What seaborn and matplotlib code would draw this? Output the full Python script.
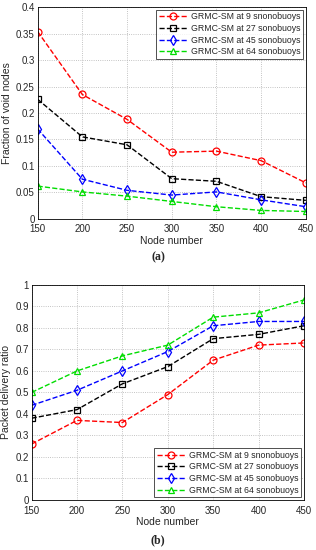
import numpy as np
import pandas as pd
import matplotlib
matplotlib.use("Agg")
import matplotlib.pyplot as plt
import seaborn as sns

# data
nodes = [150, 200, 250, 300, 350, 400, 450]
labels = ["GRMC-SM at 9 snonobuoys", "GRMC-SM at 27 sonobuoys",
          "GRMC-SM at 45 sonobuoys", "GRMC-SM at 64 sonobuoys"]

void_9 = [0.354, 0.235, 0.188, 0.126, 0.128, 0.110, 0.068]
void_27 = [0.226, 0.155, 0.140, 0.076, 0.071, 0.042, 0.035]
void_45 = [0.170, 0.075, 0.054, 0.045, 0.051, 0.036, 0.023]
void_64 = [0.062, 0.051, 0.043, 0.033, 0.023, 0.016, 0.014]

pdr_9 = [0.26, 0.37, 0.36, 0.49, 0.65, 0.72, 0.73]
pdr_27 = [0.38, 0.42, 0.54, 0.62, 0.75, 0.77, 0.81]
pdr_45 = [0.44, 0.51, 0.60, 0.69, 0.81, 0.83, 0.83]
pdr_64 = [0.50, 0.60, 0.67, 0.72, 0.85, 0.87, 0.93]

colors = ["#ff0000", "#000000", "#0000ff", "#00dd00"]
markers = ["o", "s", "d", "^"]

sns.set_style("white")
plt.rcParams["font.family"] = ["Liberation Sans", "DejaVu Sans"]

fig = plt.figure(figsize=(3.16, 5.5), dpi=100)
ax1 = fig.add_axes([0.119, 0.602, 0.849, 0.385])
ax2 = fig.add_axes([0.100, 0.091, 0.862, 0.391])


def draw(ax, series, ylim, yticks, ylabel, loc, caption, cap_y):
    for vals, lab, c, m in zip(series, labels, colors, markers):
        df = pd.DataFrame({"x": nodes, "y": vals})
        sns.lineplot(data=df, x="x", y="y", ax=ax, color=c, linestyle="--",
                     linewidth=1.0, marker=m, markersize=5,
                     markerfacecolor="none", markeredgecolor=c,
                     markeredgewidth=0.9, label=lab)
    ax.set_xlim(150, 450)
    ax.set_ylim(*ylim)
    ax.set_xticks(nodes)
    ax.set_yticks(yticks)
    ax.set_yticklabels([f"{t:g}" for t in yticks])
    ax.tick_params(labelsize=7, length=2, direction="in")
    ax.tick_params(axis="x", pad=4)
    ax.tick_params(axis="y", pad=2)
    ax.grid(True, linestyle=":", color="#b0b0b0", linewidth=0.6)
    for s in ax.spines.values():
        s.set_color("black")
        s.set_linewidth(0.6)
    ax.set_xlabel("Node number", fontsize=7.5, labelpad=1)
    ax.set_ylabel(ylabel, fontsize=7.5, labelpad=3)
    leg = ax.legend(loc=loc, fontsize=6.3, frameon=True, fancybox=False,
                    edgecolor="black", handlelength=3.2, borderaxespad=0.3,
                    borderpad=0.3, labelspacing=0.3, handletextpad=0.5)
    leg.get_frame().set_linewidth(0.6)
    fig.text(0.5, cap_y, caption, ha="center", va="center", fontsize=8.5,
             fontweight="bold", family="Liberation Serif")


draw(ax1, [void_9, void_27, void_45, void_64], (0, 0.4),
     [0, 0.05, 0.1, 0.15, 0.2, 0.25, 0.3, 0.35, 0.4],
     "Fraction of void nodes", "upper right", "(a)", 1 - 257 / 550)
draw(ax2, [pdr_9, pdr_27, pdr_45, pdr_64], (0, 1),
     [0, 0.1, 0.2, 0.3, 0.4, 0.5, 0.6, 0.7, 0.8, 0.9, 1],
     "Packet delivery ratio", "lower right", "(b)", 1 - 540 / 550)

fig.savefig("out.png", dpi=100)
